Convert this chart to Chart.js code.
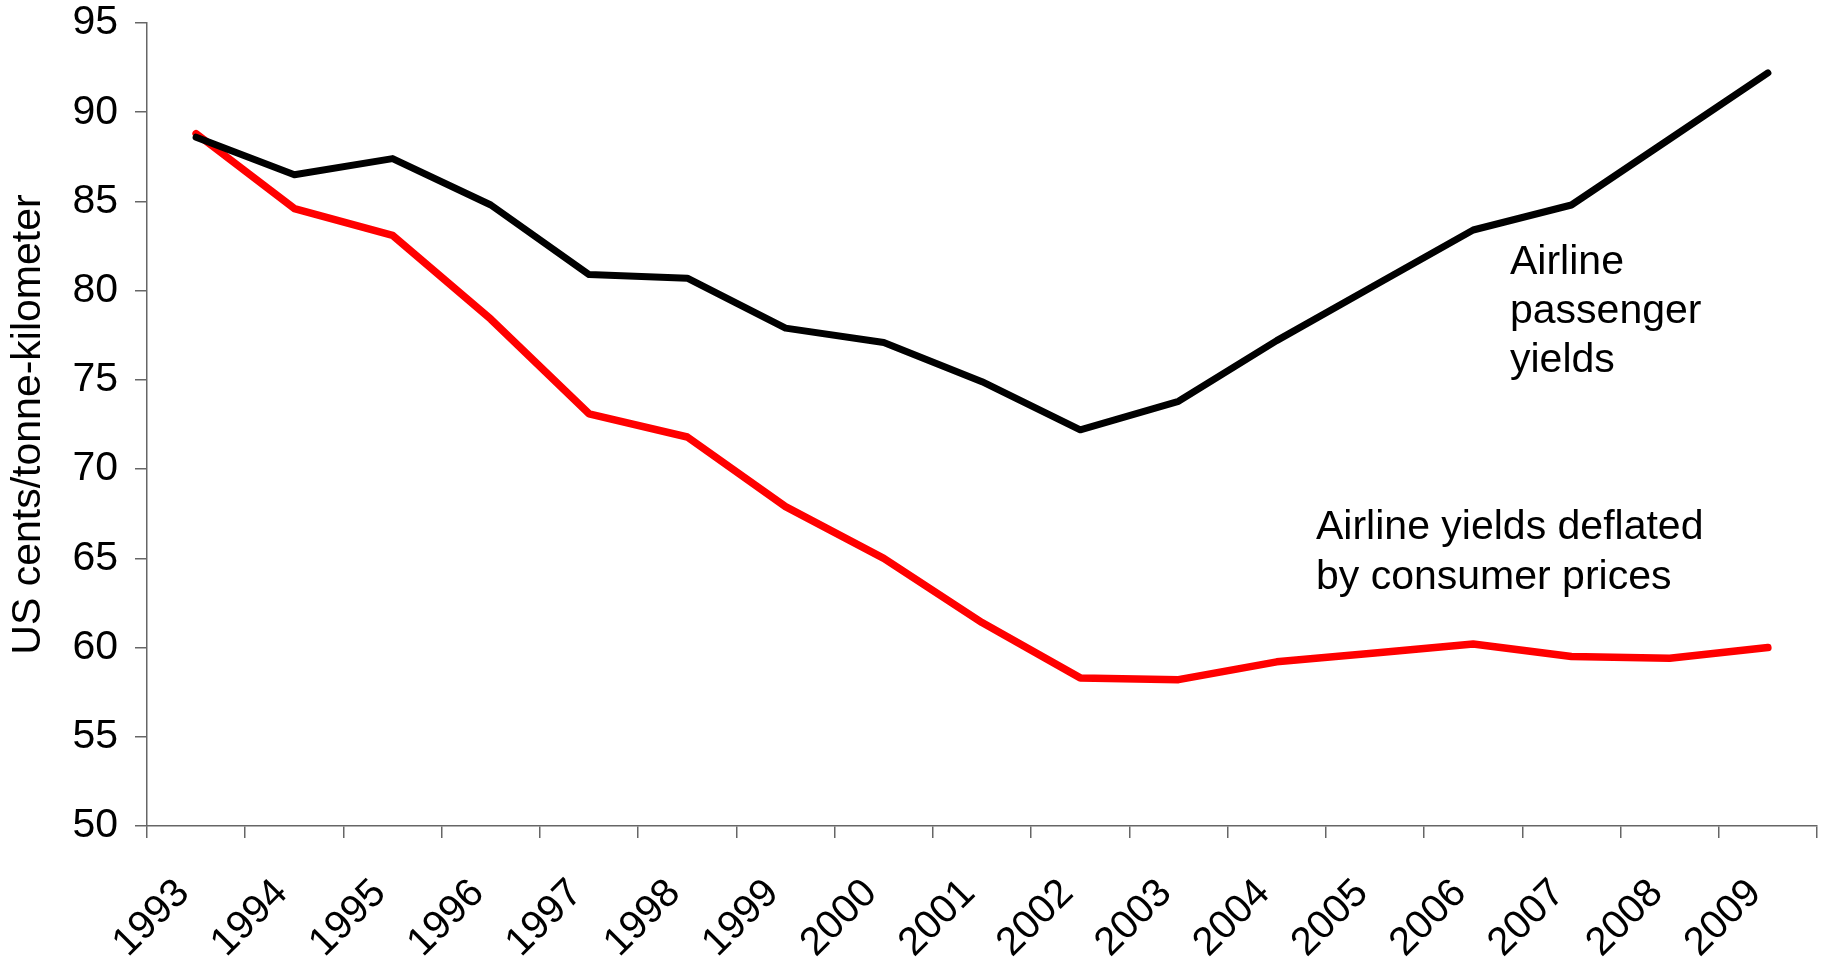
<!DOCTYPE html>
<html>
<head>
<meta charset="utf-8">
<script src="https://cdn.jsdelivr.net/npm/chart.js@4.4.1/dist/chart.umd.min.js"></script>
<style>
  html, body { margin: 0; padding: 0; background: #fff; }
  #wrap { width: 1825px; height: 957px; }
</style>
</head>
<body>
<div id="wrap"><canvas id="myChart" width="1825" height="957"></canvas></div>
<script>
// years on the x axis
let years = ['1993','1994','1995','1996','1997','1998','1999','2000','2001',
             '2002','2003','2004','2005','2006','2007','2008','2009'];

// Airline passenger yields (US cents / tonne-km)
let passengerYields = [88.6, 86.5, 87.4, 84.8, 80.9, 80.7, 77.9, 77.1, 74.9,
                       72.2, 73.8, 77.2, 80.3, 83.4, 84.8, 88.5, 92.2];

// same, deflated by consumer prices
let deflatedYields = [88.8, 84.6, 83.1, 78.4, 73.1, 71.8, 67.9, 65.0, 61.4,
                      58.3, 58.2, 59.2, 59.7, 60.2, 59.5, 59.4, 60.0];

let fontFam = "'Liberation Sans', Arial, sans-serif";

// text labels next to the lines
let notes = {
  id: 'notes',
  afterDraw: (chart) => {
    let ctx = chart.ctx;
    ctx.save();
    ctx.fillStyle = '#000';
    ctx.font = '41px ' + fontFam;
    ctx.textAlign = 'left';
    ctx.textBaseline = 'alphabetic';
    ctx.fillText('Airline', 1510, 274);
    ctx.fillText('passenger', 1510, 323);
    ctx.fillText('yields', 1510, 372);
    ctx.fillText('Airline yields deflated', 1316, 539);
    ctx.fillText('by consumer prices', 1316, 589);
    ctx.restore();
  }
};

new Chart(document.getElementById('myChart'), {
  type: 'line',
  data: {
    labels: years,
    datasets: [
      {
        label: 'Airline passenger yields',
        data: passengerYields,
        borderColor: '#000000',
        borderWidth: 7,
        pointRadius: 0,
        tension: 0,
        borderCapStyle: 'round',
        borderJoinStyle: 'round'
      },
      {
        label: 'Airline yields deflated by consumer prices',
        data: deflatedYields,
        borderColor: '#ff0000',
        borderWidth: 7.5,
        pointRadius: 0,
        tension: 0,
        borderCapStyle: 'round',
        borderJoinStyle: 'round'
      }
    ]
  },
  options: {
    responsive: false,
    animation: false,
    events: [],
    layout: { padding: { top: 23, right: 8, left: 0, bottom: 0 } },
    plugins: {
      legend: { display: false },
      tooltip: { enabled: false },
      title: { display: false }
    },
    scales: {
      x: {
        offset: true,
        border: { color: '#666', width: 1.5 },
        grid: { offset: true, drawOnChartArea: false, tickLength: 12, color: '#666', lineWidth: 1.5 },
        ticks: {
          color: '#000',
          font: { family: fontFam, size: 40 },
          maxRotation: 45,
          minRotation: 45,
          padding: 32,
          labelOffset: -13,
          autoSkip: false
        },
        afterFit: (scale) => {
          scale.height = 131;
          scale.paddingLeft = 0;
          scale.paddingRight = 0;
        }
      },
      y: {
        min: 50,
        max: 95,
        border: { color: '#666', width: 1.5 },
        grid: { drawOnChartArea: false, tickLength: 12, color: '#666', lineWidth: 1.5 },
        ticks: {
          stepSize: 5,
          color: '#000',
          font: { family: fontFam, size: 41 },
          padding: 17
        },
        title: {
          display: true,
          text: 'US cents/tonne-kilometer',
          color: '#000',
          font: { family: fontFam, size: 41 },
          padding: { top: 4, bottom: 0 }
        },
        afterFit: (scale) => {
          scale.width = 147;
          scale.paddingTop = 0;
          scale.paddingBottom = 0;
        }
      }
    }
  },
  plugins: [notes]
});
</script>
</body>
</html>
